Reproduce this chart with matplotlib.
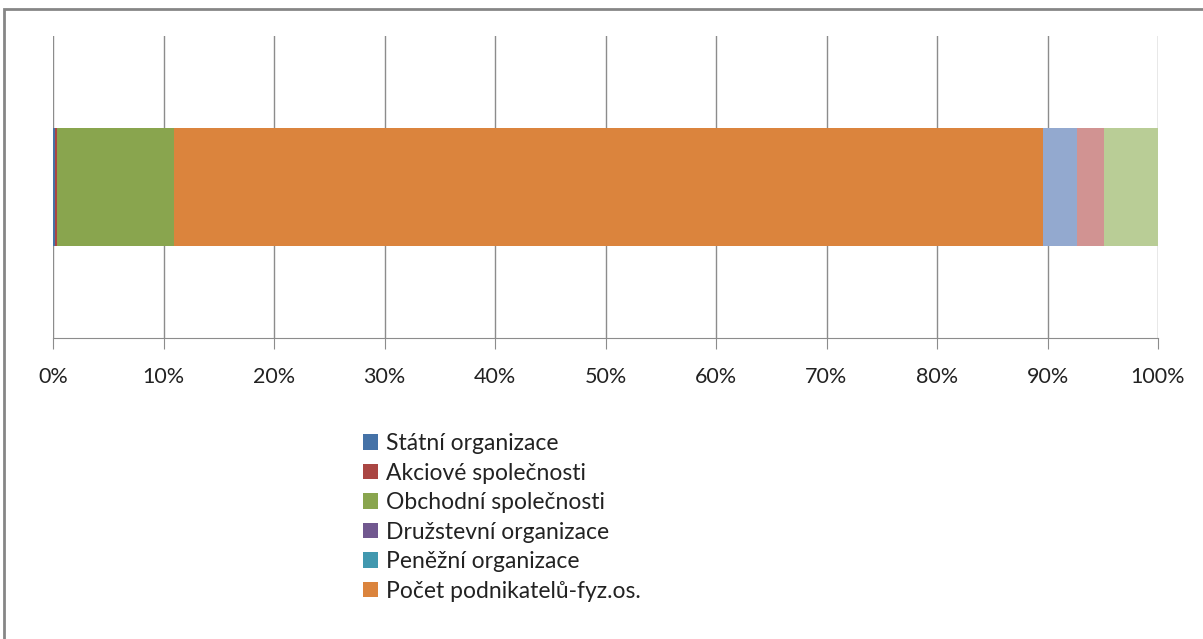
import matplotlib.pyplot as plt
from matplotlib.patches import Rectangle

plt.rcParams['font.family'] = ['Lato', 'DejaVu Sans']

# podíly jednotlivých skupin (%)
series_names = [
    "Státní organizace",
    "Akciové společnosti",
    "Obchodní společnosti",
    "Družstevní organizace",
    "Peněžní organizace",
    "Počet podnikatelů-fyz.os.",
    "Skupina 7",
    "Skupina 8",
    "Skupina 9",
]
shares = [0.15, 0.25, 10.55, 0.02, 0.01, 78.6, 3.1, 2.4, 4.9]
colors = ["#4572A7", "#AA4643", "#89A54E", "#71588F", "#4198AF",
          "#DB843D", "#93A9CF", "#D19392", "#B9CD96"]
legend_count = 6
tick_values = list(range(0, 101, 10))
tick_labels = [f"{v}%" for v in tick_values]

fig = plt.figure(figsize=(12.03, 6.39), dpi=100)
ax = fig.add_axes([53 / 1203, 1 - 338 / 639, (1158 - 53) / 1203, (338 - 36) / 639])

total = sum(shares)
left = 0.0
bars = []
for name, val, col in zip(series_names, shares, colors):
    w = val / total * 100
    b = ax.barh(0, w, left=left, height=0.394, color=col, label=name,
                linewidth=0)
    bars.append(b)
    left += w

ax.set_xlim(0, 100)
ax.set_ylim(-0.5, 0.5)
ax.set_xticks(tick_values)
ax.set_xticklabels(tick_labels, fontsize=15.5, color="#222222")
ax.set_yticks([])
ax.xaxis.grid(True, color="#8c8c8c", linewidth=1)
ax.set_axisbelow(True)
for s in ["top", "left", "right"]:
    ax.spines[s].set_visible(False)
ax.spines["bottom"].set_color("#8c8c8c")
ax.tick_params(axis="x", length=8, color="#8c8c8c", pad=13)

fig.legend(bars[:legend_count], series_names[:legend_count],
           loc="upper left", bbox_to_anchor=(354 / 1203, 1 - 424 / 639),
           frameon=False, fontsize=16.5, handlelength=0.65, handleheight=0.65,
           handletextpad=0.35, labelspacing=0.37, borderaxespad=0,
           labelcolor="#222222")

# rámeček grafu
fig.patches.append(Rectangle((4 / 1203, -0.1), 1.2, 1 - 9 / 639 + 0.1,
                             transform=fig.transFigure, fill=False,
                             edgecolor="#868686", linewidth=2))

fig.savefig("out.png", dpi=100)
